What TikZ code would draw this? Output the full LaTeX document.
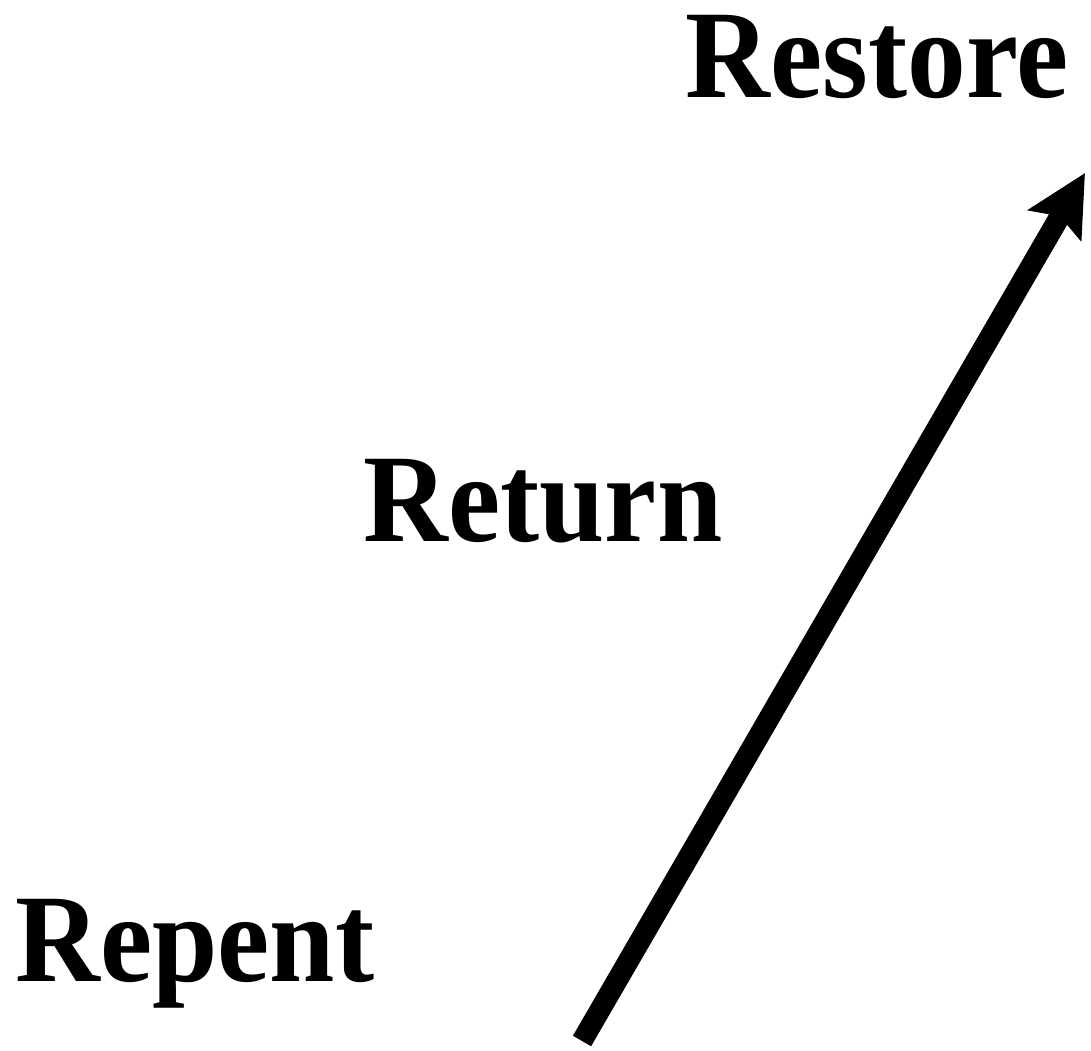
\documentclass[tikz,border=0pt]{standalone}
\usepackage{fontspec}
\setmainfont{Liberation Serif}
\usetikzlibrary{arrows.meta, positioning}

\begin{document}
\begin{tikzpicture}[
    word/.style={inner sep=0pt, anchor=base west,
                 font=\fontsize{33.4}{40}\selectfont\bfseries},
    arr/.style={-{Stealth[length=0.6cm, width=0.6cm, inset=0.1cm]},
                line width=0.21cm}
]
    \useasboundingbox (0,0) rectangle (10.91,10.51);

    \node[word] (repent) at (0.15,0.69) {\scalebox{1}[1.07]{Repent}};
    \node[word] (return) at (3.63,5.09) {\scalebox{1}[1.07]{Return}};
    \node[word] (restore) at (6.85,9.53) {\scalebox{1}[1.07]{Restore}};

    \coordinate (start) at (5.82,0.10);
    \coordinate (tip) at (10.85,8.78);

    \draw[arr] (start) -- (tip);
\end{tikzpicture}
\end{document}
